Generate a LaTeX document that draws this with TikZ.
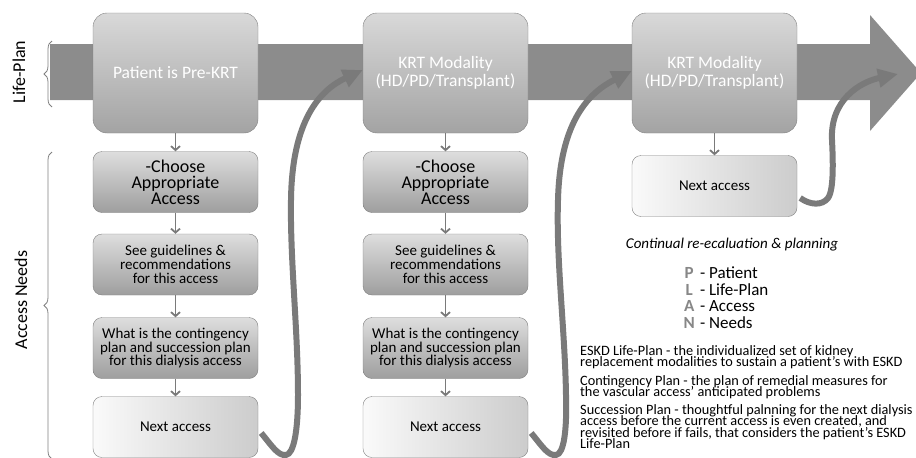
\documentclass[tikz,border=0pt]{standalone}
\usepackage{fontspec}
\setmainfont{Carlito}
\usetikzlibrary{arrows.meta, decorations.pathreplacing, positioning}
\definecolor{bandgray}{RGB}{140,140,140}
\definecolor{loopgray}{RGB}{122,122,122}
\definecolor{edgegray}{RGB}{128,128,128}
\definecolor{lettergray}{RGB}{135,135,135}
\newcommand{\planletter}[1]{\makebox[14pt][c]{\textcolor{lettergray}{\textbf{#1}}}}
\newcommand{\tightlines}{\lineskiplimit=-8pt\relax}

\begin{document}
\begin{tikzpicture}[x=1pt, y=-1pt,
    stage/.style={draw=edgegray, rounded corners=14pt, top color=black!15, bottom color=black!36,
        text=white, minimum width=165pt, minimum height=120pt, align=center,
        font=\fontsize{17.5}{18}\selectfont},
    task/.style={draw=edgegray, rounded corners=9pt, top color=black!13, bottom color=black!38,
        minimum width=165pt, minimum height=61pt, align=center, inner sep=2pt,
        font=\fontsize{15}{13.8}\selectfont\tightlines},
    nextbox/.style={draw=edgegray, rounded corners=9pt, left color=black!2, right color=black!20,
        minimum width=165pt, minimum height=61pt, font=\fontsize{15}{15}\selectfont},
    flowarrow/.style={-{Straight Barb[length=4pt,width=9pt]}, line width=1.8pt, draw=loopgray},
    backarrow/.style={-{Triangle[length=20pt,width=18pt]}, line width=6pt, draw=loopgray},
    sidelabel/.style={rotate=90, font=\fontsize{18}{18}\selectfont},
    curly/.style={decorate, decoration={brace, amplitude=8pt}, draw=edgegray, thick},
    note/.style={anchor=north west, align=left, inner sep=0pt,
        font=\fontsize{14.3}{11.6}\selectfont\tightlines}]

    \clip (0,0) rectangle (916,458);

    % Life-Plan band
    \fill[bandgray] (50,44) -- (870,44) -- (870,15) -- (921,73) -- (870,131) -- (870,100) -- (50,100) -- cycle;

    % Side labels
    \node[sidelabel] (lifelabel) at (19,72) {Life-Plan};
    \draw[curly] (52,107) -- (52,41);
    \node[sidelabel] (needslabel) at (21,300) {Access Needs};
    \draw[curly] (52,459) -- (52,152);

    % Stages on the band
    \node[stage] (pre) at (175.5,73) {Patient is Pre-KRT};
    \node[stage] (krt1) at (445.5,73) {KRT Modality\\(HD/PD/Transplant)};
    \node[stage] (krt2) at (714.5,73) {KRT Modality\\(HD/PD/Transplant)};

    % First column
    \node[task, font=\fontsize{18}{16}\selectfont\tightlines] (choose1) at (175.5,182) {-Choose\\Appropriate\\Access};
    \node[task] (guide1) at (175.5,264.5) {See guidelines \&\\recommendations\\for this access};
    \node[task] (plan1) at (175.5,348) {What is the contingency\\plan and succession plan\\for this dialysis access};
    \node[nextbox] (next1) at (175.5,427) {Next access};

    % Second column
    \node[task, font=\fontsize{18}{16}\selectfont\tightlines] (choose2) at (445.5,182) {-Choose\\Appropriate\\Access};
    \node[task] (guide2) at (445.5,264.5) {See guidelines \&\\recommendations\\for this access};
    \node[task] (plan2) at (445.5,348) {What is the contingency\\plan and succession plan\\for this dialysis access};
    \node[nextbox] (next2) at (445.5,427) {Next access};

    % Third column
    \node[nextbox] (next3) at (714.5,186) {Next access};

    % Downward steps
    \draw[flowarrow] (pre) -- (choose1);
    \draw[flowarrow] (choose1) -- (guide1);
    \draw[flowarrow] (guide1) -- (plan1);
    \draw[flowarrow] (plan1) -- (next1);
    \draw[flowarrow] (krt1) -- (choose2);
    \draw[flowarrow] (choose2) -- (guide2);
    \draw[flowarrow] (guide2) -- (plan2);
    \draw[flowarrow] (plan2) -- (next2);
    \draw[flowarrow] (krt2) -- (next3);

    % Loops back to the band
    \draw[backarrow] ([xshift=3pt,yshift=-6pt]next1.east) .. controls (272,446) and (278,456) .. (286,455)
        .. controls (294,454) and (298,430) .. (298,395)
        .. controls (298,330) and (290,260) .. (291,200)
        .. controls (292,120) and (320,90) .. ([yshift=3pt]krt1.west);
    \draw[backarrow] ([xshift=3pt,yshift=-6pt]next2.east) .. controls (542,446) and (548,456) .. (556,455)
        .. controls (564,454) and (567,430) .. (566,395)
        .. controls (565,330) and (556,260) .. (558,200)
        .. controls (560,120) and (590,92) .. ([yshift=2pt]krt2.west);
    \coordinate (goal) at (898,74);
    \draw[backarrow] ([xshift=3pt,yshift=-12pt]next3.east) .. controls (810,205) and (822,206) .. (828,198)
        .. controls (834,190) and (833,160) .. (832,140)
        .. controls (830,100) and (860,82) .. (goal);

    % Notes
    \node[font=\fontsize{15}{15}\selectfont\itshape] (cycle) at (732,245) {Continual re-ecaluation \& planning};
    \node[note, font=\fontsize{17}{16.5}\selectfont] (acronym) at (682,267)
        {\planletter{P} - Patient\\\planletter{L} - Life-Plan\\\planletter{A} - Access\\\planletter{N} - Needs};
    \node[note] (eskd) at (580,345) {ESKD Life-Plan - the individualized set of kidney\\replacement modalities to sustain a patient's with ESKD};
    \node[note] (contingency) at (580,375) {Contingency Plan - the plan of remedial measures for\\the vascular access' anticipated problems};
    \node[note] (succession) at (580,404) {Succession Plan - thoughtful palnning for the next dialysis\\access before the current access is even created, and\\revisited before if fails, that considers the patient's ESKD\\Life-Plan};
\end{tikzpicture}
\end{document}
